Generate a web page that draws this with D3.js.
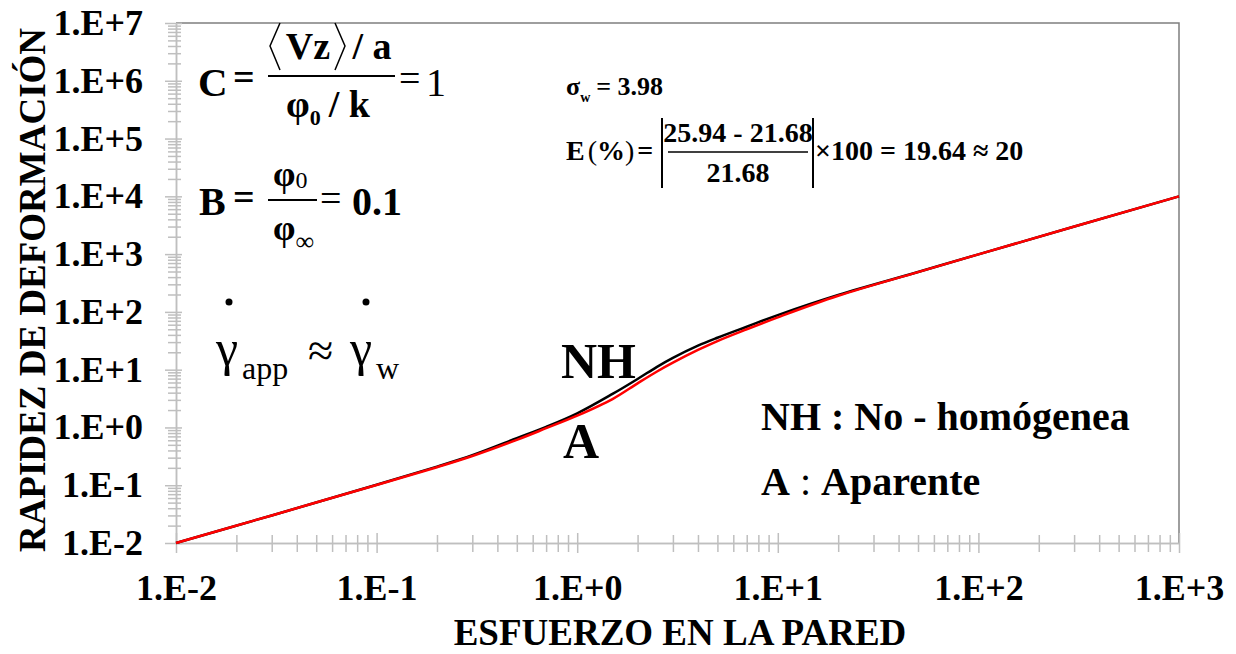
<!DOCTYPE html>
<html>
<head>
<meta charset="utf-8">
<script src="https://cdn.jsdelivr.net/npm/d3@7"></script>
<style>
    body { margin: 0; background: #fff; }
</style>
</head>
<body>
<div id="chart"></div>
<script>

// Esfuerzo en la pared (x) and rapidez de deformacion (y)
var stressVals = [0.01, 0.03, 0.1, 0.2, 0.3, 0.5, 0.7, 1, 1.5, 2, 2.5, 3, 4, 5, 7, 10, 20, 50, 100, 1000];
var rateNH     = [0.01, 0.03, 0.102, 0.21, 0.33, 0.65, 1.02, 1.75, 3.8, 6.9, 11.2, 16.0, 26.0, 35.7, 55.4, 88, 196, 490, 990, 10000];
var rateApp    = [0.01, 0.03, 0.101, 0.205, 0.32, 0.61, 0.97, 1.6, 3.1, 5.8, 9.3, 13.2, 21.9, 31.3, 50, 80.5, 190, 488, 990, 10000];

// axis decades (exponents) for the tick labels
var xDecades = [-2, -1, 0, 1, 2, 3];
var yDecades = [-2, -1, 0, 1, 2, 3, 4, 5, 6, 7];

var seriesNames = ["NH", "A"];
var seriesColors = ["#000000", "#ff0000"];

var serif = "'Liberation Serif', 'Times New Roman', serif";


/*
 * FlowCurveVis - Object constructor function
 */
FlowCurveVis = function(_parentElement){
    this.parentElement = _parentElement;
    this.initVis();
}

FlowCurveVis.prototype.initVis = function(){
    var vis = this;

    vis.margin = { top: 23, right: 57, bottom: 111, left: 176 };
    vis.width = 1236 - vis.margin.left - vis.margin.right;
    vis.height = 654 - vis.margin.top - vis.margin.bottom;

    vis.root = d3.select("#" + vis.parentElement).append("svg")
        .attr("width", 1236)
        .attr("height", 654);

    vis.svg = vis.root.append("g")
        .attr("transform", "translate(" + vis.margin.left + "," + vis.margin.top + ")");

    // log scales
    vis.x = d3.scaleLog()
        .domain([Math.pow(10, xDecades[0]), Math.pow(10, xDecades[xDecades.length - 1])])
        .range([0, vis.width]);

    vis.y = d3.scaleLog()
        .domain([Math.pow(10, yDecades[0]), Math.pow(10, yDecades[yDecades.length - 1])])
        .range([vis.height, 0]);

    vis.expFormat = function(e){
        return "1.E" + (e < 0 ? "-" : "+") + Math.abs(e);
    };

    vis.wrangleData();
}

FlowCurveVis.prototype.wrangleData = function(){
    var vis = this;

    vis.displayData = [rateNH, rateApp].map(function(vals, k){
        return {
            name: seriesNames[k],
            color: seriesColors[k],
            values: stressVals.map(function(s, i){ return { x: s, y: vals[i] }; })
        };
    });

    // minor ticks 2..9 inside every decade
    vis.minorX = [];
    xDecades.slice(0, -1).forEach(function(e){
        d3.range(2, 10).forEach(function(m){ vis.minorX.push(m * Math.pow(10, e)); });
    });
    vis.minorY = [];
    yDecades.slice(0, -1).forEach(function(e){
        d3.range(2, 10).forEach(function(m){ vis.minorY.push(m * Math.pow(10, e)); });
    });

    vis.updateVis();
}

FlowCurveVis.prototype.updateVis = function(){
    var vis = this;
    var axisGrey = "#bfbfbf";

    // frame (top and right)
    vis.svg.append("path")
        .attr("d", "M0,0H" + vis.width + "V" + vis.height)
        .attr("fill", "none")
        .attr("stroke", "#7f7f7f")
        .attr("stroke-width", 1.5);

    // minor ticks
    var xMinor = vis.svg.append("g")
        .attr("transform", "translate(0," + vis.height + ")")
        .call(d3.axisBottom(vis.x).tickValues(vis.minorX).tickFormat("").tickSizeOuter(0));
    xMinor.selectAll("line").attr("y1", -8).attr("y2", 9);

    var yMinor = vis.svg.append("g")
        .call(d3.axisLeft(vis.y).tickValues(vis.minorY).tickFormat("").tickSizeOuter(0));
    yMinor.selectAll("line").attr("x1", 5).attr("x2", -8);

    // major ticks + labels
    var xAxis = vis.svg.append("g")
        .attr("class", "x-axis axis")
        .attr("transform", "translate(0," + vis.height + ")")
        .call(d3.axisBottom(vis.x)
            .tickValues(xDecades.map(function(e){ return Math.pow(10, e); }))
            .tickFormat(function(d){ return vis.expFormat(Math.round(Math.log10(d))); })
            .tickSize(10).tickPadding(21).tickSizeOuter(0));
    xAxis.selectAll("line").attr("y1", -10).attr("y2", 10);

    var yAxis = vis.svg.append("g")
        .attr("class", "y-axis axis")
        .call(d3.axisLeft(vis.y)
            .tickValues(yDecades.map(function(e){ return Math.pow(10, e); }))
            .tickFormat(function(d){ return vis.expFormat(Math.round(Math.log10(d))); })
            .tickSize(11).tickPadding(22).tickSizeOuter(0));
    yAxis.selectAll("line").attr("x1", 6).attr("x2", -11);

    vis.svg.selectAll(".domain, .tick line")
        .attr("stroke", axisGrey)
        .attr("stroke-width", 1.5);

    vis.svg.selectAll(".axis text")
        .style("font-family", serif)
        .attr("font-size", 36)
        .attr("font-weight", "bold")
        .attr("fill", "#000");

    // curves
    var line = d3.line()
        .x(function(d){ return vis.x(d.x); })
        .y(function(d){ return vis.y(d.y); })
        .curve(d3.curveCatmullRom.alpha(0.5));

    vis.svg.selectAll(".curve")
        .data(vis.displayData)
        .enter().append("path")
        .attr("class", "curve")
        .attr("d", function(d){ return line(d.values); })
        .attr("fill", "none")
        .attr("stroke", function(d){ return d.color; })
        .attr("stroke-width", 2.5);

    // axis titles
    vis.note(680, 645, "ESFUERZO EN LA PARED", 37, true, "middle");

    vis.root.append("text")
        .attr("transform", "translate(45,290) rotate(-90)")
        .attr("text-anchor", "middle")
        .style("font-family", serif)
        .attr("font-size", 37).attr("font-weight", "bold")
        .text("RAPIDEZ DE DEFORMACIÓN");

    vis.drawNotes();
}

// helper for the text annotations
FlowCurveVis.prototype.note = function(x, y, txt, size, bold, anchor){
    return this.root.append("text")
        .attr("x", x).attr("y", y)
        .style("font-family", serif)
        .attr("font-size", size)
        .attr("font-weight", bold ? "bold" : "normal")
        .attr("text-anchor", anchor || "start")
        .text(txt);
}

FlowCurveVis.prototype.drawNotes = function(){
    var vis = this;
    var r = vis.root;

    // C = <Vz>/a / (phi0/k) = 1
    vis.note(198, 96, "C", 41, true);
    vis.note(233, 90, "=", 38, true);
    r.append("path").attr("d", "M280,23L270,46L280,70").attr("fill", "none").attr("stroke", "#000").attr("stroke-width", 1.5);
    r.append("path").attr("d", "M335,23L345,46L335,70").attr("fill", "none").attr("stroke", "#000").attr("stroke-width", 1.5);
    vis.note(308, 59, "Vz", 38, true, "middle");
    vis.note(372, 59, "/ a", 38, true, "middle");
    r.append("line").attr("x1", 268).attr("x2", 395).attr("y1", 76).attr("y2", 76)
        .attr("stroke", "#000").attr("stroke-width", 2);
    var den = vis.note(286, 117, "φ", 38, true);
    den.append("tspan").attr("font-size", 22).attr("dy", 8).text("0");
    den.append("tspan").attr("dy", -8).attr("dx", 8).text("/ k");
    vis.note(399, 91, "=", 38, false);
    vis.note(426, 96, "1", 40, false);

    // B = phi0/phi_inf = 0.1
    vis.note(199, 215, "B", 40, true);
    vis.note(233, 210, "=", 38, true);
    var num = vis.note(273, 186, "φ", 36, true);
    num.append("tspan").attr("font-size", 24).attr("font-weight", "normal").attr("dy", 2).text("0");
    r.append("line").attr("x1", 268).attr("x2", 317).attr("y1", 200).attr("y2", 200)
        .attr("stroke", "#000").attr("stroke-width", 2);
    var den2 = vis.note(273, 240, "φ", 36, true);
    den2.append("tspan").attr("font-size", 26).attr("font-weight", "normal").attr("dy", 10).text("∞");
    vis.note(320, 211, "=", 38, false);
    vis.note(352, 215, "0.1", 40, true);

    // gamma_app ~ gamma_w
    var g1 = vis.note(216, 365, "γ", 50, false);
    g1.append("tspan").attr("font-size", 32).attr("dy", 14).attr("dx", 4).text("app");
    vis.note(308, 366, "≈", 46, false);
    var g2 = vis.note(350, 365, "γ", 50, false);
    g2.append("tspan").attr("font-size", 32).attr("dy", 14).attr("dx", 4).text("w");
    r.selectAll(".gdot")
        .data([229, 366])
        .enter().append("circle")
        .attr("class", "gdot")
        .attr("cx", function(d){ return d; })
        .attr("cy", 302)
        .attr("r", 3.5)
        .attr("fill", "#000");

    // sigma_w and error
    var s = vis.note(566, 95, "σ", 26, true);
    s.append("tspan").attr("font-size", 14).attr("dy", 7).text("w");
    s.append("tspan").attr("dy", -7).attr("dx", 6).text("= 3.98");

    var e = vis.note(566, 160, "E", 28, true);
    e.append("tspan").attr("font-weight", "normal").attr("dx", 3).text("(");
    e.append("tspan").text("%");
    e.append("tspan").attr("font-weight", "normal").text(")");
    e.append("tspan").attr("dx", 3).text("=");
    r.append("line").attr("x1", 662).attr("x2", 662).attr("y1", 118).attr("y2", 188)
        .attr("stroke", "#000").attr("stroke-width", 2);
    r.append("line").attr("x1", 813).attr("x2", 813).attr("y1", 118).attr("y2", 188)
        .attr("stroke", "#000").attr("stroke-width", 2);
    vis.note(738, 142, "25.94 - 21.68", 28, true, "middle");
    r.append("line").attr("x1", 668).attr("x2", 808).attr("y1", 152).attr("y2", 152)
        .attr("stroke", "#000").attr("stroke-width", 1.5);
    vis.note(738, 182, "21.68", 28, true, "middle");
    vis.note(815, 160, "×100 = 19.64 ≈ 20", 28, true);

    // curve labels
    vis.note(561, 378, "NH", 50, true);
    vis.note(563, 458, "A", 50, true);

    // legend text
    vis.note(761, 430, "NH : No - homógenea", 40, true);
    var a = vis.note(761, 495, "A", 40, true);
    a.append("tspan").attr("font-weight", "normal").text(" : ");
    a.append("tspan").text("Aparente");
}

var flowVis = new FlowCurveVis("chart");

</script>
</body>
</html>
